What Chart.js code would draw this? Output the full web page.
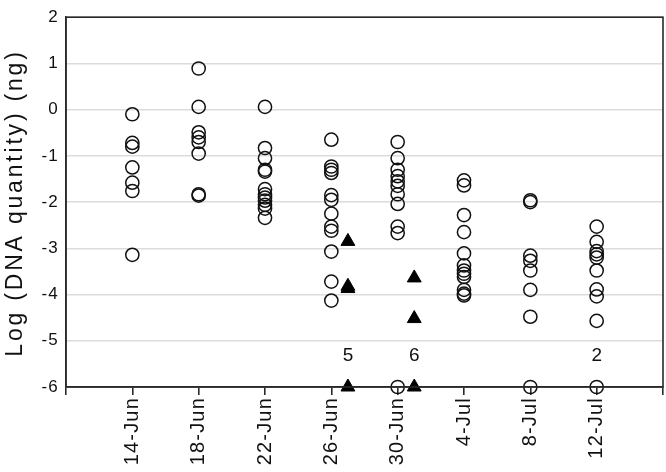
<!DOCTYPE html>
<html><head><meta charset="utf-8">
<script src="https://cdn.jsdelivr.net/npm/chart.js@4"></script>
<style>html,body{margin:0;padding:0;background:#fff}#wrap{width:666px;height:472px}</style>
</head><body><div id="wrap"><canvas id="c"></canvas></div>
<script>
// Categories (sampling dates) and their day numbers (days counted from 1-Jun)
const categories = ['14-Jun','18-Jun','22-Jun','26-Jun','30-Jun','4-Jul','8-Jul','12-Jul'];
const categoryDays = [14, 18, 22, 26, 30, 34, 38, 42];
const axisMinDay = 10, axisMaxDay = 46;
const yTitle = 'Log (DNA quantity) (ng)';

// Open circles: Log(DNA quantity) per date
const circles14Jun = [-0.1, -0.72, -0.8, -1.25, -1.58, -1.76, -3.14];
const circles18Jun = [0.89, 0.06, -0.49, -0.6, -0.7, -0.95, -1.83, -1.86];
const circles22Jun = [0.06, -0.83, -1.05, -1.3, -1.34, -1.72, -1.83, -1.9, -1.97, -2.06, -2.14, -2.34];
const circles26Jun = [-0.65, -1.23, -1.3, -1.37, -1.85, -1.95, -2.25, -2.53, -2.62, -3.07, -3.72, -4.13];
const circles30Jun = [-0.7, -1.05, -1.3, -1.44, -1.55, -1.65, -1.83, -2.04, -2.53, -2.67, -6];
const circles4Jul  = [-1.53, -1.64, -2.28, -2.65, -3.11, -3.37, -3.48, -3.55, -3.62, -3.9, -3.98, -4.02];
const circles8Jul  = [-1.96, -2.0, -3.16, -3.27, -3.48, -3.9, -4.48, -6];
const circles12Jul = [-2.53, -2.86, -3.06, -3.13, -3.2, -3.48, -3.89, -4.04, -4.57, -6];

// Filled triangles, drawn one day after their sampling date
const triangleDays = [27, 31];
const triangles26Jun = [-2.85, -3.82, -3.87, -6];
const triangles30Jun = [-3.64, -4.52, -6];

// Count annotations above points at the detection floor
const countDays = [27, 31, 42];
const countText = ['5', '6', '2'];
const countValue = -6;

const circleSets = [circles14Jun, circles18Jun, circles22Jun, circles26Jun, circles30Jun, circles4Jul, circles8Jul, circles12Jul];
const circlePoints = [];
circleSets.forEach((arr, i) => arr.forEach(v => circlePoints.push({x: categoryDays[i], y: v})));
const trianglePoints = [];
[triangles26Jun, triangles30Jun].forEach((arr, i) => arr.forEach(v => trianglePoints.push({x: triangleDays[i], y: v})));

const FONT = '"Liberation Sans", Arial, sans-serif';

const spacingPlugin = {
  id: 'spacing',
  beforeLayout(chart) { chart.ctx.letterSpacing = '1.2px'; },
  beforeDraw(chart) { chart.ctx.letterSpacing = '1.2px'; }
};

const framePlugin = {
  id: 'frame',
  afterDatasetsDraw(chart) {
    const {ctx, chartArea: a, scales} = chart;
    ctx.save();
    ctx.strokeStyle = '#2a2a2a';
    ctx.lineWidth = 1.6;
    ctx.strokeRect(a.left, a.top, a.right - a.left, a.bottom - a.top);
    ctx.fillStyle = '#111';
    ctx.letterSpacing = '0px';
    ctx.font = '19px ' + FONT;
    ctx.textAlign = 'center';
    ctx.textBaseline = 'middle';
    countDays.forEach((d, i) => {
      const x = scales.x.getPixelForValue(d);
      const y = scales.y.getPixelForValue(countValue) - 31;
      ctx.fillText(countText[i], x, y);
    });
    // y-axis title
    ctx.letterSpacing = '2.8px';
    ctx.font = '23px ' + FONT;
    ctx.translate(16, 203);
    ctx.rotate(-Math.PI / 2);
    ctx.fillText(yTitle, 0, 0);
    ctx.restore();
  }
};

new Chart(document.getElementById('c'), {
  type: 'scatter',
  data: {
    datasets: [
      {
        data: circlePoints,
        pointStyle: 'circle',
        pointRadius: 6.6,
        pointHoverRadius: 6.6,
        borderWidth: 1.5,
        borderColor: '#111',
        backgroundColor: 'rgba(0,0,0,0)',
        clip: false
      },
      {
        data: trianglePoints,
        pointStyle: 'triangle',
        pointRadius: 8,
        pointHoverRadius: 8,
        borderWidth: 1,
        borderColor: '#000',
        backgroundColor: '#000',
        clip: false
      }
    ]
  },
  options: {
    responsive: true,
    maintainAspectRatio: false,
    animation: false,
    events: [],
    layout: {autoPadding: false, padding: {top: 8, right: 3, left: 0, bottom: 0}},
    plugins: {legend: {display: false}, tooltip: {enabled: false}},
    scales: {
      x: {
        type: 'linear',
        min: axisMinDay,
        max: axisMaxDay,
        afterBuildTicks(scale) {
          const t = [];
          for (let d = axisMinDay; d <= axisMaxDay; d += 4) t.push({value: d});
          scale.ticks = t;
        },
        afterFit(scale) { scale.height = 85; scale.paddingLeft = 0; scale.paddingRight = 0; },
        ticks: {
          autoSkip: false,
          minRotation: 90,
          maxRotation: 90,
          padding: 2,
          color: '#111',
          font: {family: FONT, size: 20},
          callback(v) {
            const i = categoryDays.indexOf(v);
            return i >= 0 ? categories[i] : '';
          }
        },
        grid: {display: true, drawOnChartArea: false, drawTicks: true, tickLength: 8, color: '#2a2a2a', lineWidth: 1.6},
        border: {display: true, color: '#2a2a2a', width: 1.6}
      },
      y: {
        min: -6,
        max: 2,
        afterFit(scale) { scale.width = 66; },
        ticks: {stepSize: 1, padding: 7, color: '#111', font: {family: FONT, size: 17}},
        grid: {color: '#dcdcdc', lineWidth: 1.5, drawTicks: false},
        border: {display: true, color: '#2a2a2a', width: 1.6}
      }
    }
  },
  plugins: [spacingPlugin, framePlugin]
});
</script>
</body></html>
